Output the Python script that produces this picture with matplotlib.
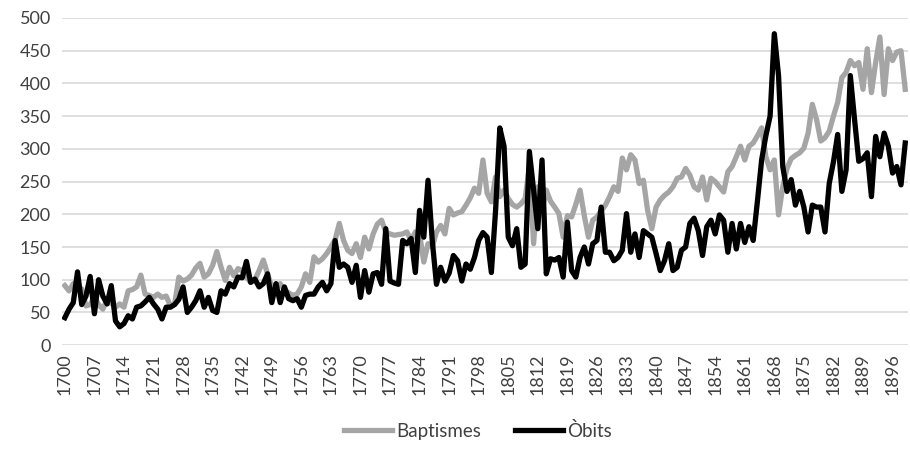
import numpy as np
import matplotlib.pyplot as plt

# anys 1700-1899
years = list(range(1700, 1900))

baptismes = [
    91, 83, 94, 88, 86, 60, 62, 73, 62, 55,
    70, 64, 58, 63, 58, 83, 85, 89, 107, 78,
    76, 73, 78, 73, 75, 60, 63, 104, 98, 101,
    107, 118, 125, 104, 109, 122, 143, 119, 99, 119,
    106, 117, 114, 104, 96, 100, 114, 130, 109, 89,
    89, 94, 84, 80, 76, 78, 89, 109, 96, 135,
    127, 132, 140, 150, 161, 186, 160, 145, 140, 155,
    134, 165, 147, 170, 185, 191, 173, 170, 168, 169,
    170, 173, 160, 173, 170, 127, 155, 150, 173, 183,
    170, 209, 199, 202, 204, 214, 225, 240, 232, 283,
    232, 219, 257, 227, 237, 224, 215, 211, 216, 224,
    273, 155, 242, 206, 237, 220, 211, 201, 165, 198,
    196, 215, 237, 198, 165, 191, 196, 205, 214, 227,
    242, 235, 286, 268, 291, 283, 247, 252, 206, 178,
    211, 222, 229, 234, 242, 255, 257, 270, 260, 242,
    237, 257, 222, 255, 250, 242, 234, 265, 273, 288,
    304, 283, 304, 309, 320, 332, 288, 268, 283, 199,
    242, 270, 285, 290, 294, 301, 324, 368, 345, 312,
    317, 327, 350, 371, 409, 417, 435, 427, 432, 391,
    453, 386, 432, 471, 383, 453, 435, 448, 450, 391,
]

obits = [
    42, 55, 65, 112, 62, 75, 105, 48, 100, 75,
    63, 91, 37, 28, 33, 45, 40, 58, 60, 66,
    73, 63, 55, 40, 58, 58, 62, 70, 89, 50,
    58, 68, 83, 58, 73, 53, 50, 83, 78, 94,
    89, 104, 103, 128, 96, 101, 89, 94, 109, 65,
    94, 65, 89, 71, 68, 71, 58, 76, 78, 78,
    89, 96, 83, 94, 160, 119, 124, 119, 96, 122,
    73, 114, 81, 109, 111, 93, 178, 98, 95, 93,
    160, 155, 163, 111, 206, 165, 252, 160, 93, 119,
    98, 110, 137, 129, 98, 124, 116, 134, 160, 172,
    165, 111, 206, 332, 304, 165, 152, 178, 119, 124,
    296, 237, 178, 283, 109, 132, 130, 134, 104, 188,
    114, 104, 134, 150, 124, 155, 160, 211, 142, 142,
    129, 134, 145, 201, 142, 170, 134, 175, 170, 165,
    140, 114, 129, 155, 114, 119, 145, 150, 186, 194,
    175, 137, 181, 191, 170, 199, 191, 142, 186, 147,
    186, 157, 181, 160, 220, 283, 320, 350, 476, 412,
    273, 235, 253, 214, 235, 211, 173, 214, 211, 211,
    173, 247, 280, 322, 235, 268, 412, 345, 281, 285,
    294, 227, 319, 288, 324, 304, 263, 273, 245, 309,
]

plt.rcParams['font.family'] = ['Lato', 'DejaVu Sans']

fig = plt.figure(figsize=(9.1, 4.5), dpi=100)
ax = fig.add_axes([0.068, 0.233, 0.93, 0.727])

ax.plot(years, baptismes, color='#a5a5a5', lw=3.8, label='Baptismes', solid_joinstyle='round')
ax.plot(years, obits, color='black', lw=3.8, label='Òbits', solid_joinstyle='round')

ax.set_xlim(1699.3, 1899.7)
ax.set_ylim(0, 500)
ax.set_yticks(range(0, 501, 50))
ax.set_xticks(range(1700, 1900, 7))
ax.tick_params(axis='x', labelrotation=90, length=0, labelsize=13, colors='#404040', pad=6)
ax.tick_params(axis='y', length=0, labelsize=13, colors='#404040', pad=8)
ax.grid(axis='y', color='#d9d9d9', lw=1.2)
ax.set_axisbelow(True)
for s in ['top', 'right', 'left', 'bottom']:
    ax.spines[s].set_visible(False)

fig.legend(loc='lower center', bbox_to_anchor=(0.525, -0.015), ncol=2, frameon=False,
           fontsize=13.5, handlelength=2.6, handletextpad=0.2, columnspacing=1.8,
           labelcolor='#404040')

fig.savefig('out.png', dpi=100)
